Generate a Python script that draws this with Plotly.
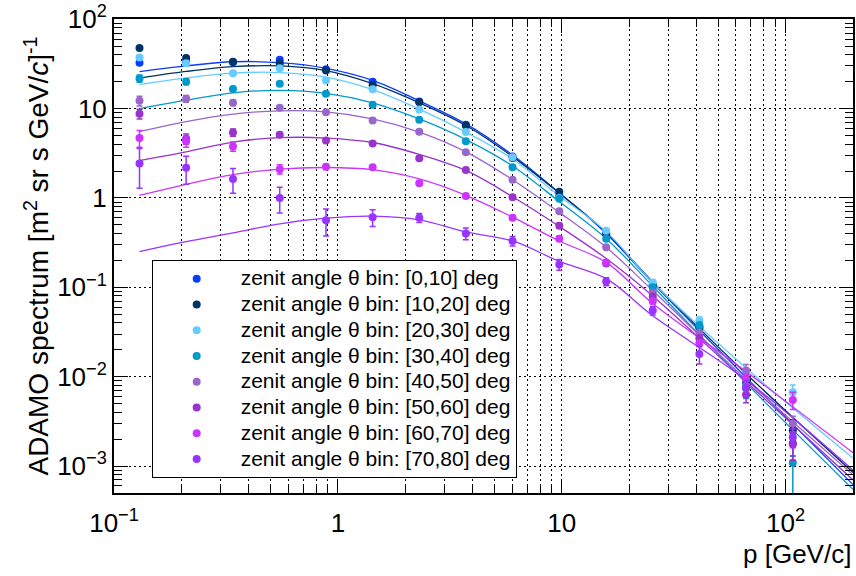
import plotly.graph_objects as go
import numpy as np

# ---- data ----
p_gev = [0.13, 0.21, 0.34, 0.55, 0.885, 1.43, 2.31, 3.73, 6.03, 9.75, 15.8, 25.5, 41.2, 66.6, 107.7]

bin_labels = ["[0,10]", "[10,20]", "[20,30]", "[30,40]", "[40,50]", "[50,60]", "[60,70]", "[70,80]"]
colors = ["#0a3cff", "#003366", "#66ccff", "#0099cc", "#9966cc", "#9933cc", "#cc33ff", "#9933ff"]

flux_0_10 = [32.6, 33.5, 33.0, 35.2, 27.5, 20.0, 12.0, 6.6, 2.9, 1.05, 0.40, 0.105, 0.035, 0.0075, 0.0018]
flux_10_20 = [47.7, 36.7, 33.4, 32.0, 26.6, 18.2, 11.8, 6.46, 2.8, 1.17, 0.40, 0.107, 0.036, 0.0085, 0.0025]
flux_20_30 = [37.3, 32.1, 24.9, 28.2, 20.6, 16.4, 9.75, 5.45, 2.85, 1.0, 0.43, 0.113, 0.0425, 0.0078, 0.0067]
flux_30_40 = [21.7, 20.0, 16.6, 19.0, 14.6, 11.0, 7.52, 4.3, 2.21, 0.98, 0.35, 0.10, 0.0377, 0.0077, 0.00109]
flux_40_50 = [12.2, 12.9, 11.6, 10.2, 9.1, 7.33, 5.5, 3.24, 1.60, 0.71, 0.28, 0.0875, 0.031, 0.0117, 0.0030]
flux_50_60 = [8.74, 4.6, 5.41, 5.1, 4.38, 4.06, 2.78, 2.05, 1.02, 0.49, 0.185, 0.079, 0.027, 0.0063, 0.00176]
flux_60_70 = [4.68, 4.3, 3.77, 2.1, 2.23, 2.21, 1.46, 1.05, 0.60, 0.35, 0.19, 0.07, 0.0237, 0.0094, 0.0055]
flux_70_80 = [2.43, 2.17, 1.63, 1.0, 0.564, 0.61, 0.60, 0.40, 0.33, 0.18, 0.116, 0.055, 0.0179, 0.0075, 0.0021]

err_0_10 = [1.5, 1.2, 0.9, 0.8, 0.5, 0.35, 0.2, 0.1, 0.05, 0.03, 0.012, 0.005, 0.002, 0.0012, 0.0005]
err_10_20 = [1.6, 1.2, 0.9, 0.8, 0.5, 0.35, 0.2, 0.1, 0.05, 0.03, 0.012, 0.005, 0.002, 0.0012, 0.0008]
err_20_30 = [1.5, 1.2, 0.9, 0.8, 0.5, 0.35, 0.2, 0.1, 0.06, 0.03, 0.015, 0.008, 0.004, 0.0015, 0.0014]
err_30_40 = [2.0, 1.5, 1.0, 0.6, 0.4, 0.3, 0.2, 0.12, 0.07, 0.04, 0.015, 0.006, 0.003, 0.002, 0.0012]
err_40_50 = [1.5, 1.1, 0.8, 0.5, 0.3, 0.2, 0.1, 0.08, 0.05, 0.03, 0.012, 0.006, 0.002, 0.002, 0.0006]
err_50_60 = [1.1, 0.6, 0.5, 0.3, 0.2, 0.12, 0.1, 0.07, 0.04, 0.03, 0.01, 0.005, 0.002, 0.0012, 0.0006]
err_60_70 = [1.0, 0.6, 0.45, 0.25, 0.15, 0.1, 0.07, 0.05, 0.03, 0.02, 0.012, 0.005, 0.002, 0.0012, 0.0012]
err_70_80 = [1.15, 0.75, 0.5, 0.32, 0.19, 0.13, 0.07, 0.06, 0.04, 0.025, 0.012, 0.006, 0.004, 0.0015, 0.0005]

# fit curves
fit_p = [0.13, 0.21, 0.34, 0.55, 0.885, 1.43, 2.31, 3.73, 6.03, 9.75, 15.8, 25.5, 66.6, 200]
fit_0_10 = [25.9, 30.0, 33.4, 32.6, 28.2, 20.7, 12.2, 6.74, 3.02, 1.14, 0.40, 0.112, 0.0098, 0.00062]
fit_10_20 = [21.9, 26.0, 29.4, 30.0, 26.6, 19.0, 11.6, 6.46, 2.9, 1.13, 0.41, 0.115, 0.0108, 0.00085]
fit_20_30 = [18.5, 22.0, 24.9, 25.3, 22.5, 16.3, 9.85, 5.45, 2.73, 1.05, 0.42, 0.113, 0.0125, 0.00123]
fit_30_40 = [10.0, 12.4, 15.0, 16.0, 14.8, 11.6, 7.65, 4.5, 2.28, 0.91, 0.35, 0.103, 0.0085, 0.00055]
fit_40_50 = [5.54, 7.15, 8.67, 9.44, 9.2, 7.65, 5.45, 3.28, 1.6, 0.69, 0.28, 0.092, 0.0093, 0.0008]
fit_50_60 = [2.62, 3.28, 4.22, 4.73, 4.68, 4.17, 3.07, 2.03, 1.03, 0.48, 0.21, 0.08, 0.0088, 0.0007]
fit_60_70 = [1.07, 1.42, 1.82, 2.1, 2.19, 2.07, 1.63, 1.07, 0.61, 0.33, 0.19, 0.066, 0.0114, 0.00141]
fit_70_80 = [0.251, 0.324, 0.406, 0.514, 0.594, 0.625, 0.569, 0.417, 0.33, 0.195, 0.125, 0.048, 0.0092, 0.0009]

fluxes = [flux_0_10, flux_10_20, flux_20_30, flux_30_40, flux_40_50, flux_50_60, flux_60_70, flux_70_80]
errs = [err_0_10, err_10_20, err_20_30, err_30_40, err_40_50, err_50_60, err_60_70, err_70_80]
fits = [fit_0_10, fit_10_20, fit_20_30, fit_30_40, fit_40_50, fit_50_60, fit_60_70, fit_70_80]

x_ticks = [0.1, 1, 10, 100]
x_ticktext = ["10<sup>\u22121</sup>", "1", "10", "10<sup>2</sup>"]
y_ticks = [1e-3, 1e-2, 1e-1, 1, 10, 100]
y_ticktext = ["10<sup>\u22123</sup>", "10<sup>\u22122</sup>", "10<sup>\u22121</sup>", "1", "10", "10<sup>2</sup>"]

FONT = "Liberation Sans, Arial, Helvetica, sans-serif"

fig = go.Figure()

for i in range(len(bin_labels)):
    fig.add_trace(go.Scatter(
        x=fit_p, y=fits[i], mode="lines",
        line=dict(color=colors[i], width=1.3, shape="spline", smoothing=1.0),
        showlegend=False, hoverinfo="skip"))

for i in range(len(bin_labels)):
    fig.add_trace(go.Scatter(
        x=p_gev, y=fluxes[i], mode="markers",
        name=f"<span style=\"font-size:21px\">zenit angle \u03b8 bin: {bin_labels[i]} deg</span>",
        marker=dict(color=colors[i], size=8, symbol="circle"),
        error_y=dict(type="data", array=errs[i], visible=True,
                     color=colors[i], thickness=1.5, width=3)))

minor_x = [k * 10.0 ** e for e in range(-1, 3) for k in range(2, 10) if k * 10.0 ** e <= 200]
minor_y = [k * 10.0 ** e for e in range(-4, 2) for k in range(2, 10) if 5e-4 <= k * 10.0 ** e <= 100]

fig.update_layout(
    width=856, height=576,
    margin=dict(l=114, r=1, t=13, b=83),
    paper_bgcolor="white", plot_bgcolor="white",
    font=dict(family=FONT, size=24, color="black"),
    showlegend=True,
    legend=dict(
        x=0.051, y=0.492, xanchor="left", yanchor="top",
        bgcolor="white", bordercolor="black", borderwidth=1,
        font=dict(family=FONT, size=17.5, color="black"),
        itemwidth=78, tracegroupgap=0,
    ),
    xaxis=dict(
        type="log", range=[-1, np.log10(200)],
        tickmode="array", tickvals=x_ticks, ticktext=x_ticktext,
        ticks="inside", ticklen=14, tickwidth=1, tickcolor="black",
        showline=True, linecolor="black", linewidth=2, mirror="allticks",
        showgrid=True, gridcolor="black", gridwidth=1, griddash="2px,3px",
        minor=dict(tickmode="array", tickvals=minor_x, ticks="inside", ticklen=8,
                   tickcolor="black", showgrid=True, gridcolor="black",
                   gridwidth=1, griddash="2px,3px"),
        tickfont=dict(size=26), zeroline=False, ticklabelstandoff=6,
        ticklabeloverflow="allow",
    ),
    yaxis=dict(
        type="log", range=[np.log10(5e-4), 2.002],
        tickmode="array", tickvals=y_ticks, ticktext=y_ticktext,
        ticks="inside", ticklen=14, tickwidth=1, tickcolor="black",
        showline=True, linecolor="black", linewidth=2, mirror="allticks",
        showgrid=True, gridcolor="black", gridwidth=1, griddash="2px,3px",
        minor=dict(tickmode="array", tickvals=minor_y, ticks="inside", ticklen=8,
                   tickcolor="black", showgrid=False),
        tickfont=dict(size=26), zeroline=False, ticklabeloverflow="allow",
        title=dict(text="ADAMO spectrum [m<sup>2</sup> sr s GeV/<i>c</i>]<sup>-1</sup>",
                   font=dict(size=28), standoff=0),
    ),
    annotations=[dict(
        text="p [GeV/c]", xref="paper", yref="paper", x=1.0, y=-0.092,
        xanchor="right", yanchor="top", showarrow=False,
        font=dict(family=FONT, size=26, color="black"))],
)

fig.write_html("out.html")
